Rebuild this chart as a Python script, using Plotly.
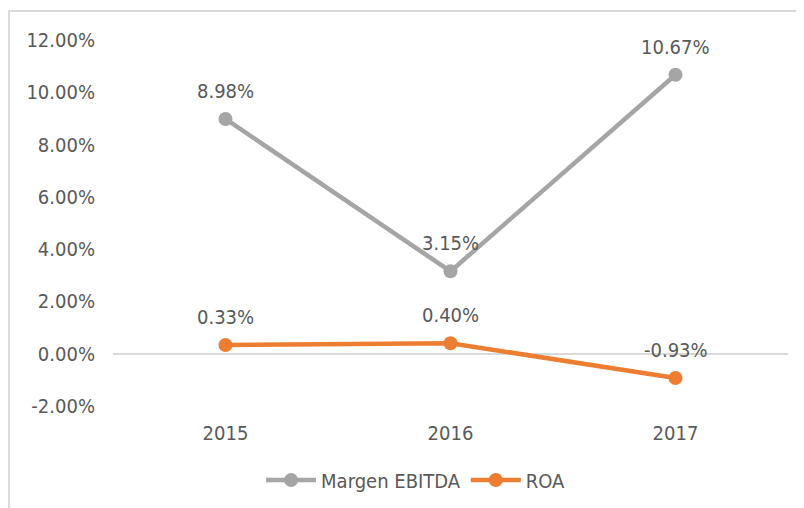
import plotly.graph_objects as go

years = ["2015", "2016", "2017"]
margen_ebitda = [8.98, 3.15, 10.67]
roa = [0.33, 0.40, -0.93]
y_ticks = [-2, 0, 2, 4, 6, 8, 10, 12]

FONT = "DejaVu Sans Condensed, DejaVu Sans, sans-serif"
TXT = "#595959"
GRAY = "#A5A5A5"
ORANGE = "#ED7D31"

fig = go.Figure()
for name, vals, col in [("Margen EBITDA", margen_ebitda, GRAY), ("ROA", roa, ORANGE)]:
    fig.add_trace(go.Scatter(
        x=years, y=vals, name=name, mode="lines+markers",
        line=dict(color=col, width=4.5),
        marker=dict(color=col, size=14),
        hoverinfo="skip",
    ))
    for i, yv in enumerate(vals):
        fig.add_annotation(x=i, y=yv, xref="x", yref="y", text=f"{yv:.2f}%", showarrow=False,
                           yshift=28, font=dict(family=FONT, size=20, color=TXT))

# chart-area border (partially visible)
fig.add_shape(type="line", xref="paper", yref="paper", x0=-0.16, x1=1.1, y0=1.079, y1=1.079,
              line=dict(color="#D9D9D9", width=2))
fig.add_shape(type="line", xref="paper", yref="paper", x0=-0.154, x1=-0.154, y0=1.079, y1=-0.4,
              line=dict(color="#D9D9D9", width=2))

fig.update_layout(
    width=804, height=508,
    margin=dict(l=105, r=24, t=32, b=110),
    paper_bgcolor="white", plot_bgcolor="white",
    font=dict(family=FONT, size=20, color=TXT),
    showlegend=True,
    legend=dict(orientation="h", x=0.449, xanchor="center", y=-0.202, yanchor="middle",
                itemwidth=50, font=dict(family=FONT, size=20, color=TXT)),
    xaxis=dict(type="category", range=[-0.5, 2.5], showgrid=False, showline=False,
               zeroline=False, ticks="", ticklabelstandoff=13),
    yaxis=dict(range=[-2, 12], tickvals=y_ticks, ticktext=[f"{v:.2f}%" for v in y_ticks],
               showgrid=False, showline=False, zeroline=True, zerolinecolor="#D9D9D9",
               zerolinewidth=1.5, ticks="", ticklabelstandoff=17),
)

fig.write_html("out.html")
